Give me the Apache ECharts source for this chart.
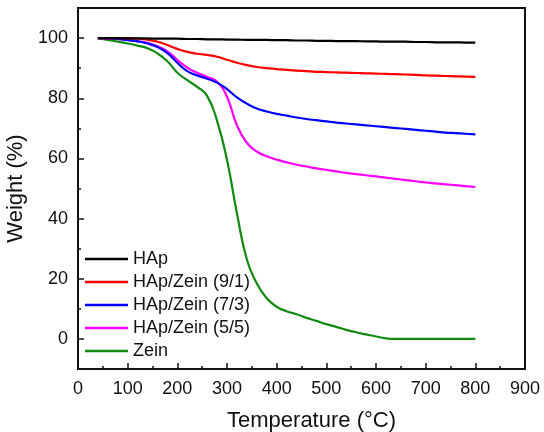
<!DOCTYPE html>
<html>
<head>
<meta charset="utf-8">
<script src="https://cdn.jsdelivr.net/npm/echarts@6/dist/echarts.min.js"></script>
<style>
  html, body { margin: 0; padding: 0; background: #fff; }
  #chart { width: 544px; height: 432px; }
</style>
</head>
<body>
<div id="chart"></div>
<script>
// temperature (°C) sample points shared by every curve
const temps = [40, 60, 80, 100, 120, 140, 160, 180, 200, 220, 240, 260, 280, 300, 320, 340, 360, 380, 400,
  420, 440, 460, 480, 500, 520, 540, 560, 580, 600, 620, 640, 660, 680, 700, 720, 740, 760, 780, 800];

const hap = [100, 100, 100, 99.9, 99.9, 99.9, 99.8, 99.8, 99.8, 99.7, 99.7, 99.6, 99.6, 99.5, 99.5, 99.4, 99.4, 99.4, 99.3,
  99.3, 99.2, 99.2, 99.1, 99.1, 99.0, 99.0, 99.0, 98.9, 98.9, 98.8, 98.8, 98.8, 98.7, 98.7, 98.6, 98.6, 98.6, 98.5, 98.5];
const hapZein91 = [100, 100, 100, 99.9, 99.8, 99.5, 98.8, 97.7, 96.4, 95.4, 94.8, 94.4, 93.8, 92.8, 91.8, 91.0, 90.4, 90.0, 89.7,
  89.4, 89.2, 89.0, 88.8, 88.7, 88.6, 88.5, 88.4, 88.3, 88.2, 88.1, 88.0, 87.9, 87.8, 87.6, 87.5, 87.4, 87.3, 87.2, 87.1];
const hapZein73 = [100, 99.9, 99.7, 99.3, 98.9, 98.2, 97.0, 95.0, 91.8, 89.0, 87.6, 86.5, 85.2, 83.0, 80.3, 78.2, 76.6, 75.6, 74.8,
  74.2, 73.6, 73.1, 72.7, 72.3, 71.9, 71.6, 71.3, 71.0, 70.7, 70.4, 70.1, 69.8, 69.5, 69.2, 68.9, 68.6, 68.4, 68.2, 68.0];
const hapZein55 = [100, 99.9, 99.7, 99.4, 99.0, 98.4, 97.3, 95.6, 92.8, 90.2, 88.5, 87.1, 85.5, 80.5, 71.0, 65.2, 62.3, 60.7, 59.6,
  58.7, 57.9, 57.3, 56.7, 56.2, 55.7, 55.2, 54.8, 54.4, 54.0, 53.6, 53.2, 52.8, 52.4, 52.0, 51.7, 51.4, 51.1, 50.8, 50.5];
const zein = [100, 99.4, 98.8, 98.2, 97.5, 96.6, 94.9, 92.3, 88.5, 86.0, 83.8, 80.8, 72.5, 59.5, 41.8, 26.4, 18.5, 13.5, 10.7,
  9.2, 8.2, 7.0, 6.0, 4.9, 4.0, 3.0, 2.2, 1.5, 0.8, 0.2, 0, 0, 0, 0, 0, 0, 0, 0, 0];

const seriesNames = ['HAp', 'HAp/Zein (9/1)', 'HAp/Zein (7/3)', 'HAp/Zein (5/5)', 'Zein'];
const seriesValues = [hap, hapZein91, hapZein73, hapZein55, zein];
const seriesColors = ['#000000', '#ff0000', '#0000ff', '#ff00ff', '#108a10'];

const xTicks = [0, 100, 200, 300, 400, 500, 600, 700, 800, 900];
const yTicks = [0, 20, 40, 60, 80, 100];
const yMinorTicks = [-10, 10, 30, 50, 70, 90, 110];

const font = '"Liberation Sans", Arial, Helvetica, sans-serif';

const chart = echarts.init(document.getElementById('chart'));

const option = {
  backgroundColor: '#ffffff',
  animation: false,
  textStyle: { fontFamily: font, color: '#111' },
  grid: {
    left: 78,
    right: 19,
    top: 8,
    bottom: 63,
    outerBoundsMode: 'none',
    show: true,
    borderColor: '#111',
    borderWidth: 2,
    backgroundColor: 'transparent'
  },
  legend: {
    orient: 'vertical',
    left: 80,
    top: 245,
    icon: 'rect',
    itemWidth: 43,
    itemHeight: 2.5,
    itemGap: 5,
    textStyle: { fontFamily: font, fontSize: 18, color: '#111', lineHeight: 18 },
    data: seriesNames
  },
  xAxis: {
    type: 'value',
    min: xTicks[0],
    max: xTicks[xTicks.length - 1],
    interval: 100,
    name: 'Temperature (°C)',
    nameLocation: 'middle',
    nameGap: 41,
    nameTextStyle: { fontFamily: font, fontSize: 22, color: '#111', padding: [0, 0, 0, 20] },
    axisLine: { show: true, onZero: false, lineStyle: { color: '#111', width: 2 } },
    axisTick: { show: true, inside: true, length: 6, lineStyle: { color: '#111', width: 1.5 } },
    minorTick: { show: true, splitNumber: 2, length: 3, lineStyle: { color: '#111', width: 1.5 } },
    axisLabel: { fontFamily: font, fontSize: 18, color: '#111', margin: 11 },
    splitLine: { show: false }
  },
  yAxis: [
    {
      type: 'value',
      min: -10,
      max: 110,
      name: 'Weight (%)',
      nameLocation: 'middle',
      nameGap: 43,
      nameTextStyle: { fontFamily: font, fontSize: 22, color: '#111' },
      axisLine: { show: true, onZero: false, lineStyle: { color: '#111', width: 2 } },
      axisTick: { show: true, inside: true, length: 6, customValues: yTicks, lineStyle: { color: '#111', width: 1.5 } },
      axisLabel: { fontFamily: font, fontSize: 18, color: '#111', margin: 10, customValues: yTicks },
      splitLine: { show: false }
    },
    {
      type: 'value',
      min: -10,
      max: 110,
      position: 'left',
      axisLine: { show: false, onZero: false },
      axisTick: { show: true, inside: true, length: 3, customValues: yMinorTicks, lineStyle: { color: '#111', width: 1.5 } },
      axisLabel: { show: false },
      splitLine: { show: false }
    }
  ],
  series: seriesNames.map((name, i) => ({
    name: name,
    type: 'line',
    data: temps.map((t, j) => [t, seriesValues[i][j]]),
    smooth: 0.5,
    symbol: 'none',
    lineStyle: { color: seriesColors[i], width: 2.2 },
    itemStyle: { color: seriesColors[i] },
    z: 10 - i
  }))
};

chart.setOption(option);
</script>
</body>
</html>
